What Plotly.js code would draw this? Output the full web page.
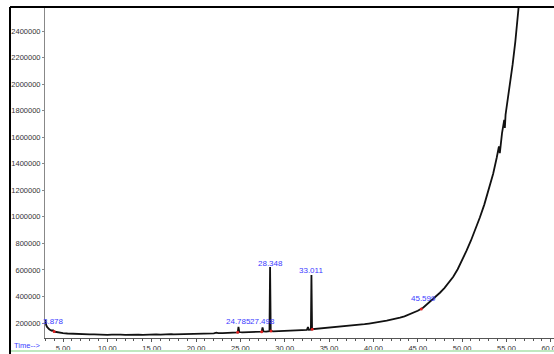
<!DOCTYPE html>
<html>
<head>
<meta charset="utf-8">
<script src="https://cdn.plot.ly/plotly-3.0.1.min.js"></script>
<style>
html,body{margin:0;padding:0;background:#fff;}
#chart{width:554px;height:354px;}
</style>
</head>
<body>
<div id="chart"></div>
<script>
// Retention time (min)
var times = [3.00,3.05,3.10,3.20,3.30,3.45,3.60,3.75,3.878,3.95,4.10,4.30,4.50,4.75,5.00,5.5,6.0,6.5,7.0,7.5,8.0,8.5,9.0,9.5,10.0,10.5,11.0,11.5,12.0,12.5,13.0,13.5,14.0,14.5,15.0,15.5,16.0,16.5,17.0,17.2,17.5,18.0,18.5,19.0,19.5,20.0,20.5,21.0,21.5,22.0,22.3,22.5,23.0,23.5,24.0,24.5,24.70,24.785,24.88,25.2,25.5,26.0,26.5,27.0,27.40,27.498,27.60,27.9,28.28,28.348,28.42,28.7,29.0,29.5,30.0,30.5,31.0,31.5,32.0,32.5,32.62,32.72,32.95,33.011,33.08,33.4,33.7,34.0,34.5,35.0,35.5,36.0,36.5,37.0,37.5,38.0,38.5,39.0,39.5,40.0,40.5,41.0,41.5,42.0,42.5,43.0,43.5,44.0,44.5,45.0,45.599,46.0,46.5,47.0,47.5,48.0,48.5,49.0,49.5,50.0,50.5,51.0,51.5,52.0,52.5,53.0,53.5,53.9,54.15,54.25,54.35,54.5,54.75,54.82,54.9,55.1,55.4,55.7,56.0,56.2,56.4,56.6];
// Abundance
var abundance = [225000,200000,185000,170000,160000,152000,146000,142000,145000,138000,134000,131000,128000,126000,124000,121000,119000,120000,116000,117000,114000,115000,112000,114000,111000,113000,110000,112000,111000,113000,110000,112000,111000,113000,112000,114000,113000,115000,120000,116000,115000,116000,115000,117000,116000,118000,119000,118000,121000,122000,127000,123000,124000,126000,125000,128000,130000,170000,132000,130000,131000,132000,133000,134000,135000,166000,137000,135000,138000,622000,140000,137000,138000,139000,140000,141000,143000,144000,146000,148000,170000,149000,150000,562000,153000,155000,157000,158000,161000,164000,166000,169000,172000,175000,179000,183000,187000,191000,196000,200000,206000,212000,218000,224000,232000,240000,250000,262000,276000,292000,315000,338000,365000,396000,428000,463000,502000,548000,605000,672000,745000,822000,905000,995000,1092000,1200000,1325000,1445000,1530000,1480000,1570000,1630000,1730000,1670000,1770000,1860000,2000000,2150000,2320000,2450000,2590000,2740000];

// Peak labels
var peakLabels = ["3.878","24.785","27.498","28.348","33.011","45.599"];
var peakTimes = [3.878,24.785,27.498,28.348,33.011,45.599];
var peakLabelY = [215000,215000,215000,652000,592000,381000];

// Integration marks
var markTimes = [4.0,24.70,27.40,28.45,33.10,45.40];
var markValues = [136000,130000,135000,140000,152000,305000];

// Axis ticks
var yTicks = [200000,400000,600000,800000,1000000,1200000,1400000,1600000,1800000,2000000,2200000,2400000];

var traces = [
  {x: times, y: abundance, type: 'scatter', mode: 'lines',
   line: {color: '#111', width: 1.8}, hoverinfo: 'skip'},
  {x: markTimes, y: markValues, type: 'scatter', mode: 'markers',
   marker: {color: '#e02020', size: 3}, hoverinfo: 'skip'}
];

var annotations = peakLabels.map(function(t, i){
  return {x: peakTimes[i], y: peakLabelY[i], xref: 'x', yref: 'y', text: t,
    showarrow: false, xanchor: 'center', yanchor: 'middle',
    font: {family: 'Liberation Sans, Arial, sans-serif', size: 8, color: '#3b3bff'}};
});
annotations.push({x: (12-45)/509, y: (338-345)/331, xref: 'paper', yref: 'paper',
  text: 'Time-->', showarrow: false, xanchor: 'left', yanchor: 'middle',
  font: {family: 'Liberation Sans, Arial, sans-serif', size: 7.5, color: '#3b3bff'}});

var layout = {
  width: 554, height: 354,
  margin: {l: 45, r: 0, t: 7, b: 16, pad: 0},
  paper_bgcolor: '#fff', plot_bgcolor: '#fff',
  showlegend: false,
  font: {family: 'Liberation Sans, Arial, sans-serif', size: 7.5, color: '#333'},
  xaxis: {range: [2.97, 60.36], tick0: 0, dtick: 5, tickformat: '.2f',
    showline: true, linecolor: '#555', linewidth: 1, ticks: 'outside', ticklen: 3, tickcolor: '#555',
    minor: {dtick: 1, ticks: 'outside', ticklen: 2, tickcolor: '#555'},
    showgrid: false, zeroline: false, ticklabeloverflow: 'allow',
    tickfont: {size: 7.5, color: '#333'}},
  yaxis: {range: [87000, 2581000], tickvals: yTicks, tickformat: 'd',
    showline: true, linecolor: '#888', linewidth: 1, ticks: 'outside', ticklen: 2, tickcolor: '#888',
    showgrid: false, zeroline: false, ticklabelstandoff: 0,
    tickfont: {size: 7.5, color: '#333'}},
  annotations: annotations,
  shapes: [
    {type: 'line', xref: 'paper', yref: 'paper', x0: (10-45)/509, x1: (10-45)/509, y0: 1, y1: (338-356)/331,
     line: {color: '#000', width: 2}, layer: 'above'},
    {type: 'line', xref: 'paper', yref: 'paper', x0: (10-45)/509, x1: 1.01, y0: 1, y1: 1,
     line: {color: '#000', width: 2}, layer: 'above'},
    {type: 'line', xref: 'paper', yref: 'paper', x0: (11-45)/509, x1: 1.01, y0: (338-351)/331, y1: (338-351)/331,
     line: {color: '#bfe8bf', width: 2}, layer: 'above'}
  ]
};

Plotly.newPlot('chart', traces, layout, {displayModeBar: false, staticPlot: true});
</script>
</body>
</html>
